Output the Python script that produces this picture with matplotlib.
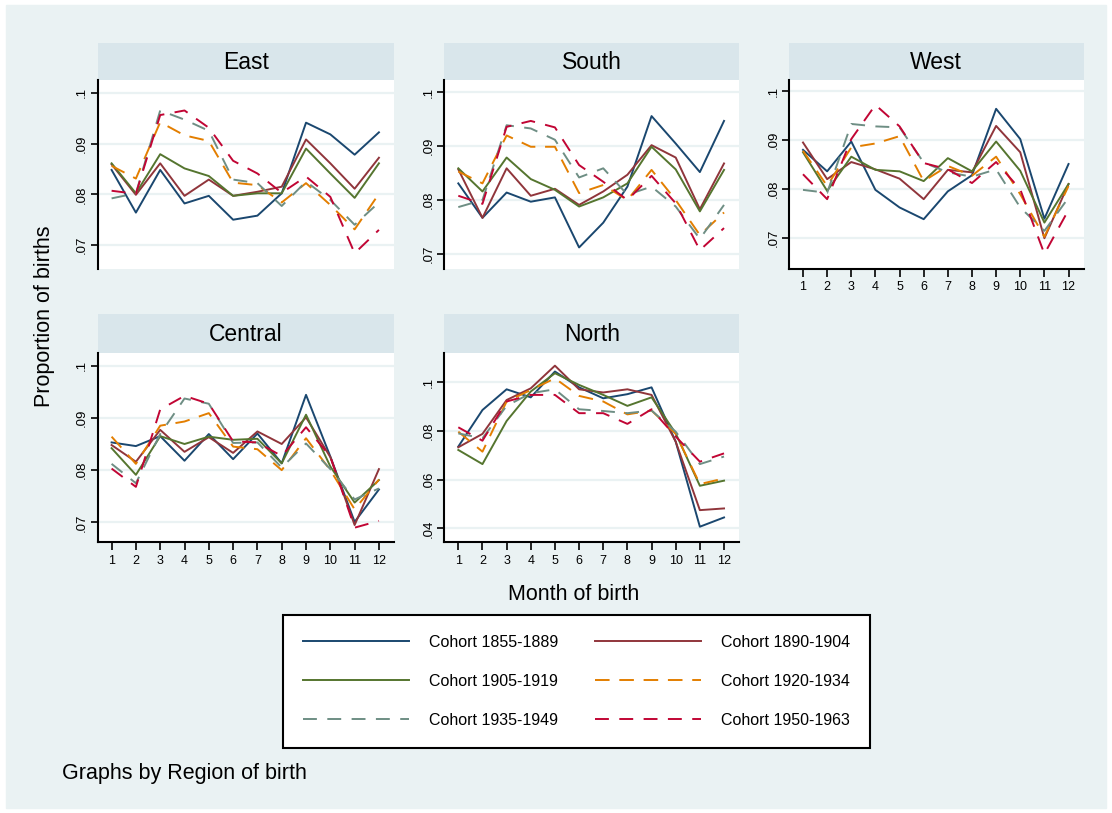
import numpy as np
import matplotlib.pyplot as plt
from matplotlib.patches import Rectangle
from matplotlib.lines import Line2D
from matplotlib.ticker import FixedLocator, FuncFormatter

plt.rcParams['font.family'] = ['Liberation Sans', 'DejaVu Sans']
plt.rcParams['lines.scale_dashes'] = False

months = np.arange(1, 13)
cohorts = ['Cohort 1855-1889', 'Cohort 1890-1904', 'Cohort 1905-1919',
           'Cohort 1920-1934', 'Cohort 1935-1949', 'Cohort 1950-1963']

# proportion of births by month, one row per cohort
east = [
    [0.0848, 0.0764, 0.0848, 0.0782, 0.0797, 0.0750, 0.0758, 0.0802, 0.0941, 0.0918, 0.0878, 0.0922],
    [0.0859, 0.0799, 0.0861, 0.0797, 0.0829, 0.0797, 0.0805, 0.0815, 0.0908, 0.0861, 0.0811, 0.0872],
    [0.0861, 0.0802, 0.0879, 0.0851, 0.0836, 0.0797, 0.0802, 0.0802, 0.0890, 0.0841, 0.0793, 0.0861],
    [0.0856, 0.0831, 0.0942, 0.0916, 0.0905, 0.0823, 0.0818, 0.0784, 0.0822, 0.0779, 0.0731, 0.0801],
    [0.0792, 0.0802, 0.0965, 0.0947, 0.0925, 0.0829, 0.0822, 0.0777, 0.0825, 0.0789, 0.0740, 0.0784],
    [0.0807, 0.0801, 0.0956, 0.0965, 0.0931, 0.0866, 0.0841, 0.0803, 0.0835, 0.0795, 0.0684, 0.0730],
]
south = [
    [0.0831, 0.0767, 0.0814, 0.0797, 0.0805, 0.0712, 0.0758, 0.0825, 0.0956, 0.0905, 0.0852, 0.0947],
    [0.0857, 0.0767, 0.0859, 0.0808, 0.0821, 0.0791, 0.0816, 0.0847, 0.0902, 0.0879, 0.0783, 0.0868],
    [0.0859, 0.0816, 0.0879, 0.0839, 0.0819, 0.0788, 0.0805, 0.0831, 0.0899, 0.0857, 0.0779, 0.0856],
    [0.0853, 0.0831, 0.0920, 0.0899, 0.0899, 0.0813, 0.0828, 0.0800, 0.0856, 0.0800, 0.0735, 0.0777],
    [0.0787, 0.0800, 0.0939, 0.0933, 0.0912, 0.0842, 0.0859, 0.0810, 0.0825, 0.0788, 0.0728, 0.0791],
    [0.0808, 0.0793, 0.0936, 0.0947, 0.0935, 0.0865, 0.0834, 0.0800, 0.0845, 0.0794, 0.0707, 0.0748],
]
west = [
    [0.0880, 0.0836, 0.0897, 0.0798, 0.0762, 0.0738, 0.0795, 0.0828, 0.0964, 0.0902, 0.0739, 0.0851],
    [0.0895, 0.0820, 0.0855, 0.0840, 0.0821, 0.0779, 0.0839, 0.0834, 0.0929, 0.0875, 0.0699, 0.0810],
    [0.0875, 0.0796, 0.0866, 0.0839, 0.0836, 0.0816, 0.0863, 0.0836, 0.0897, 0.0837, 0.0731, 0.0810],
    [0.0878, 0.0806, 0.0885, 0.0893, 0.0908, 0.0816, 0.0847, 0.0827, 0.0866, 0.0789, 0.0702, 0.0806],
    [0.0798, 0.0792, 0.0933, 0.0928, 0.0926, 0.0854, 0.0834, 0.0825, 0.0840, 0.0762, 0.0714, 0.0782],
    [0.0830, 0.0779, 0.0902, 0.0972, 0.0928, 0.0853, 0.0840, 0.0812, 0.0855, 0.0799, 0.0667, 0.0757],
]
central = [
    [0.0853, 0.0846, 0.0865, 0.0818, 0.0869, 0.0821, 0.0870, 0.0813, 0.0944, 0.0826, 0.0701, 0.0763],
    [0.0848, 0.0816, 0.0877, 0.0835, 0.0863, 0.0833, 0.0874, 0.0850, 0.0901, 0.0825, 0.0695, 0.0802],
    [0.0842, 0.0791, 0.0865, 0.0850, 0.0864, 0.0858, 0.0860, 0.0813, 0.0906, 0.0807, 0.0738, 0.0781],
    [0.0864, 0.0812, 0.0885, 0.0893, 0.0909, 0.0845, 0.0840, 0.0800, 0.0861, 0.0800, 0.0725, 0.0782],
    [0.0812, 0.0775, 0.0869, 0.0937, 0.0927, 0.0852, 0.0853, 0.0805, 0.0851, 0.0802, 0.0744, 0.0765],
    [0.0803, 0.0768, 0.0916, 0.0942, 0.0927, 0.0855, 0.0853, 0.0827, 0.0882, 0.0826, 0.0690, 0.0703],
]
north = [
    [0.0736, 0.0886, 0.0971, 0.0938, 0.1044, 0.0979, 0.0934, 0.0951, 0.0979, 0.0756, 0.0407, 0.0445],
    [0.0733, 0.0788, 0.0927, 0.0975, 0.1068, 0.0971, 0.0958, 0.0971, 0.0948, 0.0756, 0.0475, 0.0482],
    [0.0722, 0.0664, 0.0841, 0.0962, 0.1037, 0.0989, 0.0948, 0.0903, 0.0938, 0.0790, 0.0575, 0.0596],
    [0.0797, 0.0715, 0.0921, 0.0968, 0.1016, 0.0944, 0.0921, 0.0868, 0.0884, 0.0788, 0.0582, 0.0605],
    [0.0790, 0.0770, 0.0903, 0.0955, 0.0971, 0.0889, 0.0882, 0.0873, 0.0884, 0.0797, 0.0664, 0.0695],
    [0.0815, 0.0760, 0.0921, 0.0948, 0.0948, 0.0873, 0.0873, 0.0829, 0.0889, 0.0777, 0.0674, 0.0708],
]

colors = ['#1A476F', '#90353B', '#55752F', '#E37E00', '#6E8E84', '#C10534']
dashes = [None, None, None, (10.5, 7), (10, 7.5), (10, 7.5)]

W, H = 1112, 813


def rect(x0, y0, x1, y1):
    # pixel box (top-down) -> figure fraction
    return [x0 / W, 1 - y1 / H, (x1 - x0) / W, (y1 - y0) / H]


cols = [(97.5, 394), (444.3, 739), (789, 1083.5)]
rows = [(43.5, 80, 269), (314, 353, 542.3)]

# name, data, row, col, show x axis, ylim, yticks
panels = [
    ('East', east, 0, 0, False, (0.0653, 0.1025), [0.07, 0.08, 0.09, 0.10]),
    ('South', south, 0, 1, False, (0.0672, 0.1023), [0.07, 0.08, 0.09, 0.10]),
    ('West', west, 0, 2, True, (0.0636, 0.1023), [0.07, 0.08, 0.09, 0.10]),
    ('Central', central, 1, 0, True, (0.0662, 0.1024), [0.07, 0.08, 0.09, 0.10]),
    ('North', north, 1, 1, True, (0.0343, 0.1120), [0.04, 0.06, 0.08, 0.10]),
]

fig = plt.figure(figsize=(W / 100, H / 100), dpi=100, facecolor='white')
fig.patches.append(Rectangle((6 / W, 1 - 808 / H), 1100 / W, 803 / H,
                             transform=fig.transFigure, color='#EAF2F3', zorder=-10))

fmt = FuncFormatter(lambda v, _: ('%.2f' % v).lstrip('0').rstrip('0'))

for name, data, r, c, showx, ylim, yticks in panels:
    x0, x1 = cols[c]
    stop, ptop, pbot = rows[r]

    sa = fig.add_axes(rect(x0, stop, x1, ptop))
    sa.set_facecolor('#D9E6EB')
    sa.set_xticks([])
    sa.set_yticks([])
    for s in sa.spines.values():
        s.set_visible(False)
    sa.text(0.5, 0.47, name, ha='center', va='center', fontsize=16.5, transform=sa.transAxes)

    ax = fig.add_axes(rect(x0, ptop, x1, pbot))
    ax.set_facecolor('white')
    for i, vals in enumerate(data):
        ln, = ax.plot(months, vals, color=colors[i], lw=1.4)
        if dashes[i]:
            ln.set_dashes(dashes[i])
    ax.set_xlim(0.42, 12.62)
    ax.set_ylim(*ylim)
    ax.yaxis.set_major_locator(FixedLocator(yticks))
    ax.yaxis.set_major_formatter(fmt)
    ax.grid(axis='y', color='#EAF2F3', lw=1.6)
    ax.set_axisbelow(True)
    ax.spines['top'].set_visible(False)
    ax.spines['right'].set_visible(False)
    ax.spines['left'].set_linewidth(1.5)
    ax.tick_params(axis='y', direction='out', length=5, width=1.2, labelsize=9.5, pad=2,
                   labelrotation=90)
    for lab in ax.get_yticklabels():
        lab.set_va('center')
    if showx:
        ax.set_xticks(months)
        ax.spines['bottom'].set_linewidth(1.5)
        ax.tick_params(axis='x', direction='out', length=6, width=1.2, labelsize=9, pad=3)
    else:
        ax.spines['bottom'].set_visible(False)
        ax.set_xticks([])

fig.text(45 / W, 1 - 316 / H, 'Proportion of births', rotation=90, ha='center', va='center',
         fontsize=15.5)
fig.text(574 / W, 1 - 594 / H, 'Month of birth', ha='center', va='center', fontsize=15.5)
fig.text(61.7 / W, 1 - 779.3 / H, 'Graphs by Region of birth', ha='left', va='baseline',
         fontsize=15.5)

handles = []
for i in range(6):
    h = Line2D([], [], color=colors[i], lw=1.4)
    if dashes[i]:
        h.set_dashes(dashes[i])
    handles.append(h)
order = [0, 2, 4, 1, 3, 5]
leg = fig.legend([handles[i] for i in order], [cohorts[i] for i in order], ncol=2,
                 loc='center', bbox_to_anchor=rect(282.7, 615, 870, 747.7), mode='expand',
                 fontsize=11.5, frameon=True, fancybox=False, edgecolor='black', framealpha=1,
                 handlelength=6.64, handletextpad=1.25, labelspacing=1.49, borderpad=1.27,
                 borderaxespad=0)
leg.get_frame().set_linewidth(1.5)

fig.savefig('out.png', dpi=100, facecolor=fig.get_facecolor())
